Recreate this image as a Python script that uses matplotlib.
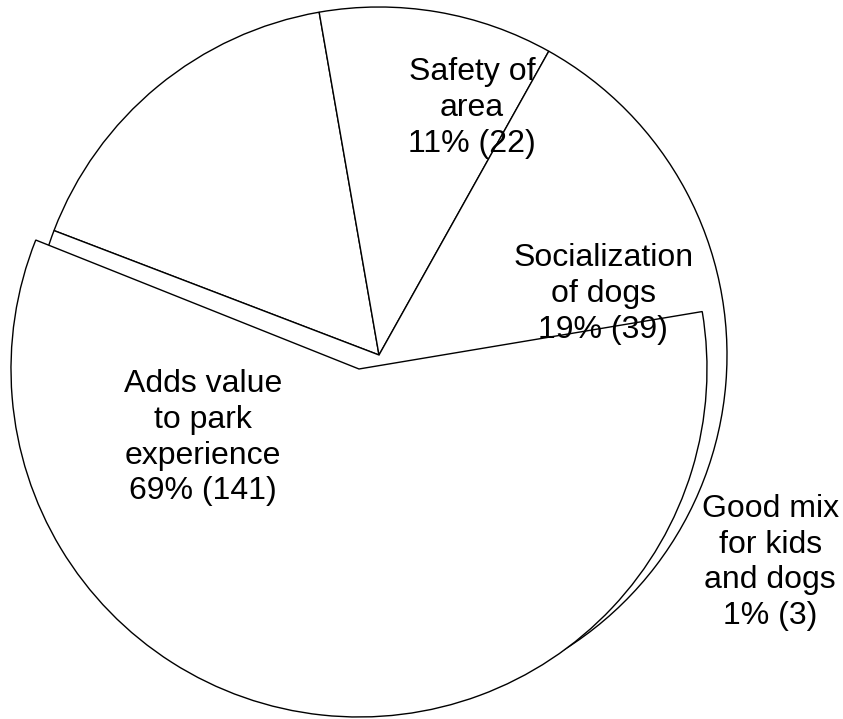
import matplotlib.pyplot as plt

# what the chart prints
labels = ["Adds value\nto park\nexperience", "Good mix\nfor kids\nand dogs",
          "Socialization\nof dogs", "Safety of\narea"]
counts = [141, 3, 39, 22]
percents = [69, 1, 19, 11]

# slice spans as they are drawn (degrees)
back_spans = [59.15, 39.1, 261.75]   # unnamed, safety, socialization (rest hidden)
back_start = 159.05
front_spans = [211.25, 148.75]       # adds value (pulled out), empty rest
front_start = 158.25
front_shift = (-0.0575, -0.0402)

# label centres in pie units (radius = 1)
label_pos = [(-0.506, -0.238), (1.124, -0.596), (0.644, 0.175), (0.267, 0.71)]

plt.rcParams['font.family'] = ['Liberation Sans', 'DejaVu Sans']

fig = plt.figure(figsize=(8.43, 7.19), dpi=100)
ax = fig.add_axes([0, 0, 1, 1])

wp = dict(facecolor='white', edgecolor='black', linewidth=1.0)

back, _ = ax.pie(back_spans, startangle=back_start, counterclock=False,
                 radius=1.0, center=(0, 0), wedgeprops=wp)
front, _ = ax.pie(front_spans, startangle=front_start, counterclock=True,
                  radius=1.0, center=front_shift, wedgeprops=wp)
front[1].set_visible(False)
for w in front:
    w.set_zorder(3)

for lab, n, p, (x, y) in zip(labels, counts, percents, label_pos):
    ax.text(x, y, "%s\n%d%% (%d)" % (lab, p, n), ha='center', va='center',
            fontsize=23, linespacing=1.25, zorder=5)

ax.set_xlim(-379 / 348, (843 - 379) / 348)
ax.set_ylim(-364 / 348, 355 / 348)
ax.set_aspect('equal')
ax.set_axis_off()

fig.savefig('out.png', dpi=100, facecolor='white')
